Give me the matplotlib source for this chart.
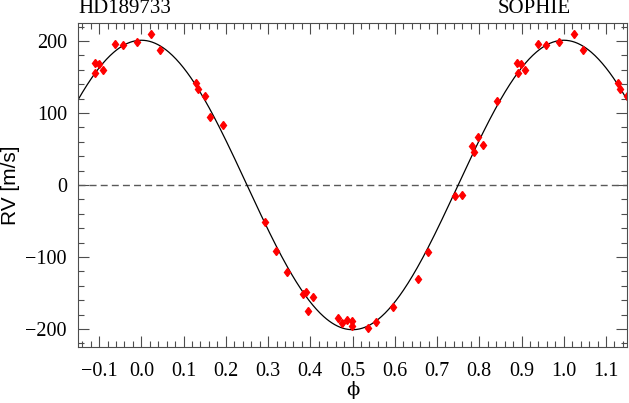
import numpy as np
import matplotlib.pyplot as plt
from matplotlib.ticker import MultipleLocator

# measured radial velocities (phase in [0, 1), RV in m/s)
phase = [0.024, 0.045, 0.129, 0.134, 0.150, 0.162, 0.194, 0.293, 0.318, 0.344,
         0.383, 0.390, 0.395, 0.406, 0.466, 0.476, 0.487, 0.499, 0.498, 0.537,
         0.555, 0.596, 0.656, 0.679, 0.743, 0.758, 0.782, 0.787, 0.797, 0.808,
         0.841, 0.890, 0.899, 0.891, 0.909, 0.938, 0.957, 0.989]
rv = [209, 187, 142, 133, 123, 94, 83, -51, -92, -121,
      -152, -148, -175, -155, -185, -191, -188, -189, -196, -199,
      -190, -169, -131, -93, -15, -14, 54, 46, 67, 56,
      117, 170, 168, 155, 159, 196, 194, 199]

# circular orbit model
K = 201.0
phi0 = 0.0

x_min, x_max = -0.15, 1.15
y_min, y_max = -225, 225

phase = np.array(phase)
rv = np.array(rv)
# repeat points on both sides so the extended phase range is filled
ph_all = np.concatenate([phase - 1, phase, phase + 1])
rv_all = np.concatenate([rv, rv, rv])
keep = (ph_all >= x_min) & (ph_all <= x_max)

x_mod = np.linspace(x_min, x_max, 600)
y_mod = K * np.cos(2 * np.pi * (x_mod - phi0))

fig = plt.figure(figsize=(6.29, 4.03), dpi=100)
ax = fig.add_axes([0.124, 0.139, 0.873, 0.804])

ax.axhline(0, color='0.35', lw=1, ls=(0, (5, 3)))
ax.plot(x_mod, y_mod, color='black', lw=0.9)
ax.plot(ph_all[keep], rv_all[keep], 'd', color='red', ms=4.3, mec='red', clip_on=True)

ax.set_xlim(x_min, x_max)
ax.set_ylim(y_min, y_max)
ax.xaxis.set_major_locator(MultipleLocator(0.1))
ax.xaxis.set_minor_locator(MultipleLocator(0.02))
ax.yaxis.set_major_locator(MultipleLocator(100))
ax.yaxis.set_minor_locator(MultipleLocator(20))
ax.tick_params(which='both', direction='in', top=True, right=True, color='0.3', width=0.8)
ax.tick_params(which='major', length=8)
ax.tick_params(which='minor', length=4)
for s in ax.spines.values():
    s.set_color('0.3')
    s.set_linewidth(0.8)

serif = 'Liberation Serif'
ax.set_xticklabels([f'{v:.1f}'.replace('-', '\u2212') for v in ax.get_xticks()])
for lab in ax.get_xticklabels() + ax.get_yticklabels():
    lab.set_fontfamily(serif)
    lab.set_fontsize(14.5)
ax.tick_params(axis='x', pad=11)
ax.tick_params(axis='y', pad=8)

ax.set_xlabel('\u03d5', fontfamily='DejaVu Serif', fontsize=14, labelpad=0)
ax.set_ylabel('RV [m/s]', fontfamily='Liberation Sans', fontsize=15, labelpad=4)

fig.text(0.124, 0.955, 'HD189733', fontfamily=serif, fontsize=15, ha='left', va='bottom')
fig.text(0.907, 0.955, 'SOPHIE', fontfamily=serif, fontsize=15, ha='right', va='bottom')

fig.savefig('out.png', dpi=100)
